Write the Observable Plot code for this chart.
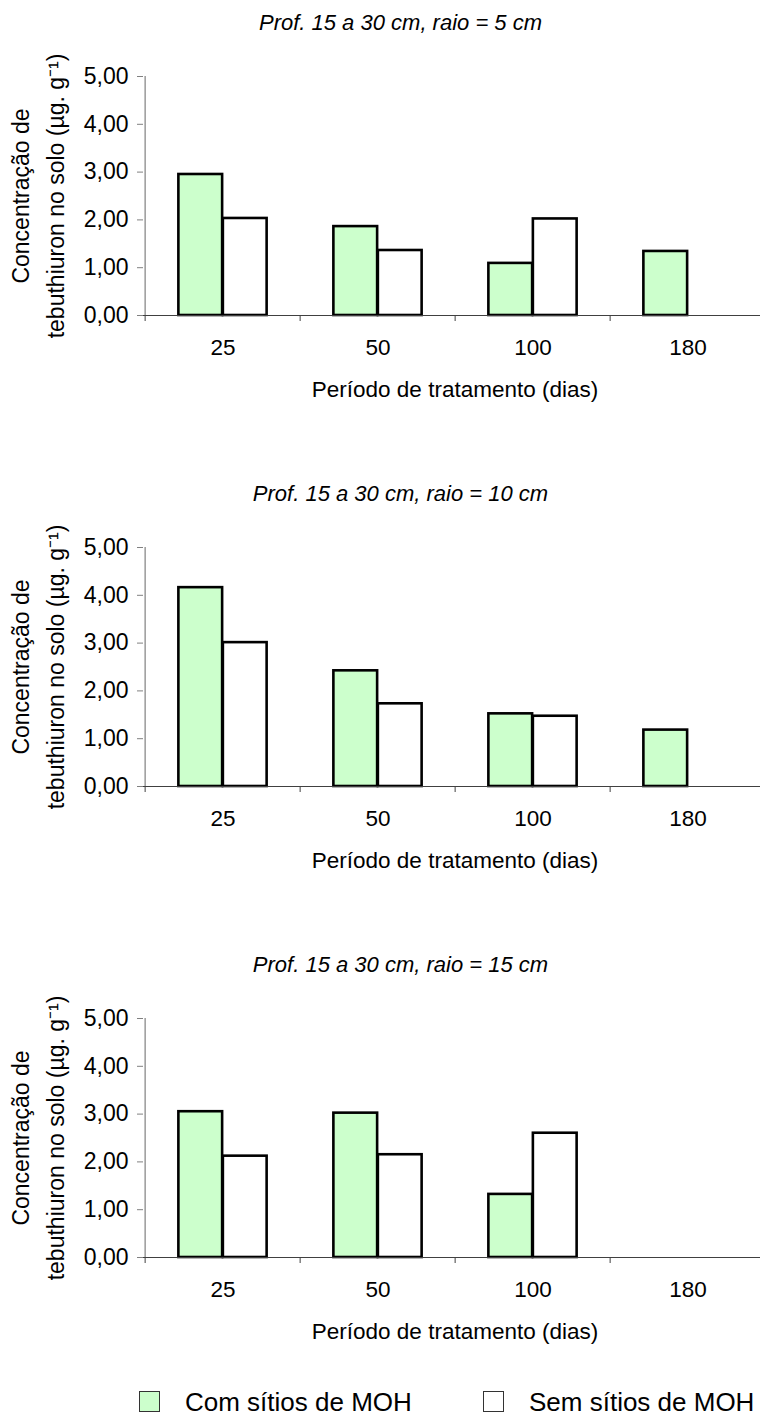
<!DOCTYPE html>
<html><head><meta charset="utf-8">
<script src="https://cdn.jsdelivr.net/npm/d3@7"></script>
<script src="https://cdn.jsdelivr.net/npm/@observablehq/plot@0.6"></script>
<style>
body{margin:0;background:#fff;}
#wrap{width:760px;height:1420px;overflow:hidden;position:relative;font-family:"Liberation Sans",Arial,sans-serif;background:#fff;}
#wrap svg{max-width:none !important;display:block;}
#legend{position:relative;height:70px;}
.lg-sw{position:absolute;top:41px;width:19px;height:19px;border:1.5px solid #333;}
.lg-tx{position:absolute;top:37px;font-size:26px;line-height:30px;white-space:nowrap;color:#000;}
</style></head><body><div id="wrap"></div>
<script>
// ---- data ----
const periods = ["25", "50", "100", "180"];
const seriesNames = ["Com sítios de MOH", "Sem sítios de MOH"];
const seriesFill = ["#ccffcc", "#ffffff"];
const panelTitles = [
  "Prof. 15 a 30 cm, raio = 5 cm",
  "Prof. 15 a 30 cm, raio = 10 cm",
  "Prof. 15 a 30 cm, raio = 15 cm"
];
const comRaio5  = [2.95, 1.86, 1.09, 1.34];
const semRaio5  = [2.03, 1.36, 2.02, null];
const comRaio10 = [4.16, 2.42, 1.52, 1.18];
const semRaio10 = [3.01, 1.73, 1.47, null];
const comRaio15 = [3.05, 3.02, 1.32, null];
const semRaio15 = [2.12, 2.15, 2.60, null];
const yTicks = [0, 1, 2, 3, 4, 5];
const yTitle = "Concentração de\ntebuthiuron no solo (µg. g⁻¹)";
const xTitle = "Período de tratamento (dias)";

const fmt = d => d.toFixed(2).replace(".", ",");
const FONT = '"Liberation Sans", Arial, Helvetica, sans-serif';

function panel(title, comVals, semVals, h) {
  const W = 766, mL = 143, mT = 76, plotH = 239;
  const step = (W - mL) / periods.length;
  const bw = 44.5, gap = (step - 2 * bw) / 2;
  const rows = periods.flatMap((p, i) => [
    {p, s: 0, v: comVals[i]},
    {p, s: 1, v: semVals[i]}
  ]).filter(d => d.v != null);
  return Plot.plot({
    width: W, height: h,
    marginLeft: mL, marginRight: 0, marginTop: mT, marginBottom: h - mT - plotH,
    x: {type: "band", domain: periods, padding: 0, axis: null},
    y: {domain: [0, 5], axis: null},
    style: {fontFamily: FONT, fontSize: "22px", background: "white", color: "black", overflow: "visible"},
    marks: [
      Plot.barY(rows.filter(d => d.s === 0), {x: "p", y: "v", fill: seriesFill[0], stroke: "black", strokeWidth: 2.6,
        insetLeft: gap, insetRight: step - gap - bw}),
      Plot.barY(rows.filter(d => d.s === 1), {x: "p", y: "v", fill: seriesFill[1], stroke: "black", strokeWidth: 2.6,
        insetLeft: gap + bw, insetRight: gap}),
      Plot.ruleY([0], {stroke: "#404040", strokeWidth: 1.2}),
      Plot.ruleX(periods, {x: d => d, dx: -step / 2, y1: 0, y2: 0, insetBottom: -6, stroke: "#404040"}),
      Plot.ruleX([periods[0]], {x: d => d, dx: -step / 2, y1: 0, y2: 5, stroke: "#808080", strokeWidth: 1.2}),
      Plot.axisY(yTicks, {anchor: "left", tickSize: 6, tickPadding: 9, tickFormat: fmt, stroke: "#808080", fill: "black", fontSize: 23, label: null}),
      Plot.axisX({anchor: "bottom", tickSize: 0, tickPadding: 24, fill: "black", fontSize: 22.5, label: null}),
      Plot.text([title], {text: d => d, frameAnchor: "top", dx: -54.5, dy: -47, lineAnchor: "bottom", fontStyle: "italic", fontSize: 22, fill: "black"}),
      Plot.text([xTitle], {text: d => d, frameAnchor: "bottom", dy: 81, lineAnchor: "bottom", fontSize: 22.5, fill: "black"}),
      Plot.text([yTitle], {text: d => d, frameAnchor: "left", rotate: -90, dx: -108, textAnchor: "middle", lineAnchor: "middle", lineHeight: 1.5, fontSize: 23, fill: "black"})
    ]
  });
}

const wrap = document.getElementById("wrap");
wrap.appendChild(panel(panelTitles[0], comRaio5, semRaio5, 471));
wrap.appendChild(panel(panelTitles[1], comRaio10, semRaio10, 471));
wrap.appendChild(panel(panelTitles[2], comRaio15, semRaio15, 408));

const legend = document.createElement("div");
legend.id = "legend";
const legendLeft = [139, 483];
seriesNames.forEach((name, i) => {
  const sw = document.createElement("div");
  sw.className = "lg-sw";
  sw.style.left = legendLeft[i] + "px";
  sw.style.background = seriesFill[i];
  const tx = document.createElement("div");
  tx.className = "lg-tx";
  tx.style.left = (legendLeft[i] + 46) + "px";
  tx.textContent = name;
  legend.appendChild(sw);
  legend.appendChild(tx);
});
wrap.appendChild(legend);
</script>
</body></html>
